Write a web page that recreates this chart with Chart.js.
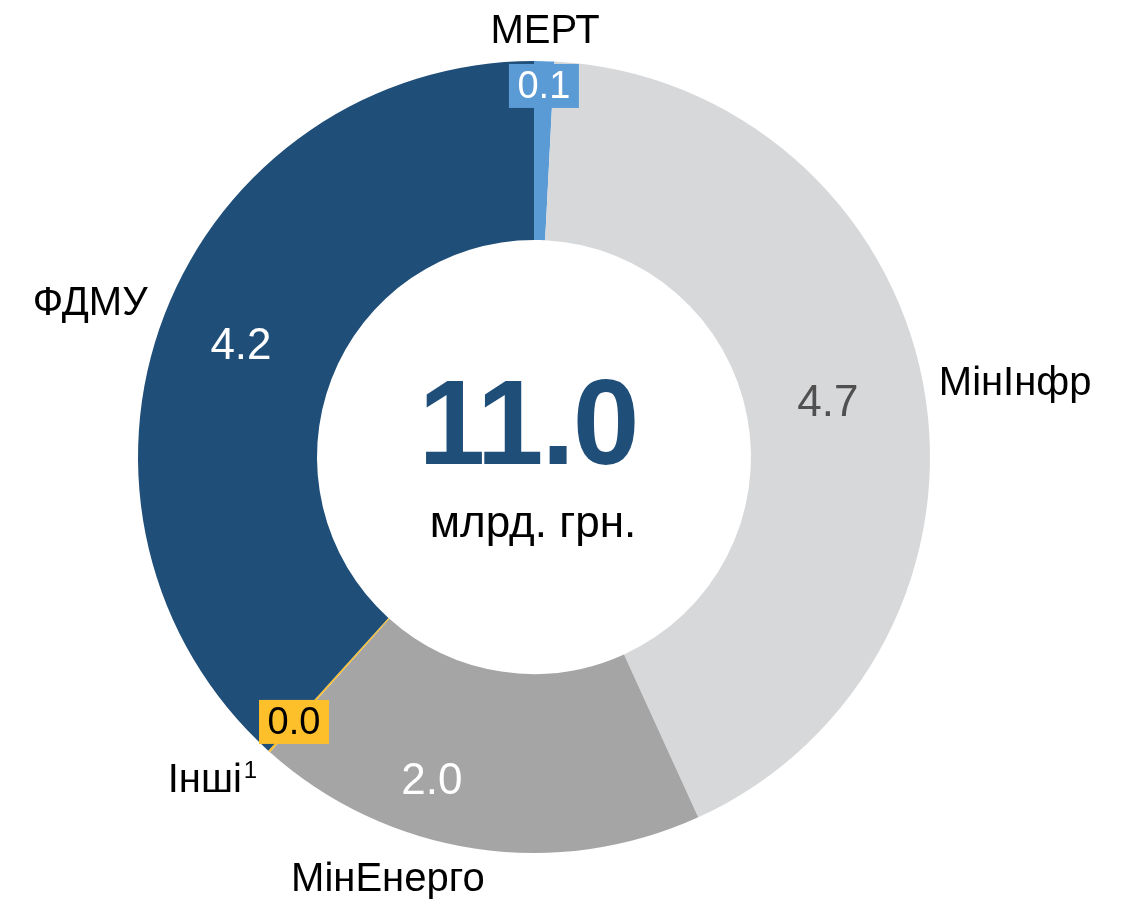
<!DOCTYPE html>
<html>
<head>
<meta charset="utf-8">
<script src="https://cdn.jsdelivr.net/npm/chart.js@4.4.1/dist/chart.umd.min.js"></script>
<style>
  html, body { margin: 0; padding: 0; background: #ffffff; }
  #wrap { width: 1128px; height: 902px; position: relative; }
</style>
</head>
<body>
<div id="wrap"><canvas id="c" width="1128" height="902"></canvas></div>
<script>
// ---- data ----
const categories = ['МЕРТ', 'МінІнфр', 'МінЕнерго', 'Інші', 'ФДМУ'];
const values = [0.09, 4.67, 2.03, 0.01, 4.22];
const valueLabels = ['0.1', '4.7', '2.0', '0.0', '4.2'];
const totalLabel = '11.0';
const unitLabel = 'млрд. грн.';

// ---- styles ----
const colors = ['#5B9BD5', '#D7D8DA', '#A5A5A5', '#FDBF2A', '#1F4E79'];
const FONT = '"Liberation Sans", Arial, Helvetica, sans-serif';

// label placement as fractions of outer radius from chart center
const valueStyle = [
  { dx: 0.025, dy: -0.937, color: '#ffffff', box: '#5B9BD5' },
  { dx: 0.742, dy: -0.139, color: '#505050' },
  { dx: -0.258, dy: 0.816, color: '#ffffff' },
  { dx: -0.606, dy: 0.669, color: '#000000', box: '#FDBF2A' },
  { dx: -0.740, dy: -0.283, color: '#ffffff' }
];
const catStyle = [
  { dx: 0.028, dy: -1.078 },
  { dx: 1.215, dy: -0.189 },
  { dx: -0.369, dy: 1.063 },
  { dx: -0.812, dy: 0.813, sup: '1' },
  { dx: -1.121, dy: -0.391 }
];

const labelPlugin = {
  id: 'labels',
  afterDraw(chart) {
    const ctx = chart.ctx;
    const arc = chart.getDatasetMeta(0).data[0];
    const cx = arc.x, cy = arc.y, R = arc.outerRadius;
    ctx.save();
    ctx.textAlign = 'center';
    ctx.textBaseline = 'middle';

    // value labels
    valueLabels.forEach((t, i) => {
      const s = valueStyle[i];
      const x = cx + s.dx * R, y = cy + s.dy * R;
      if (s.box) {
        ctx.fillStyle = s.box;
        ctx.fillRect(x - 35, y - 22, 70, 44);
        ctx.font = '38px ' + FONT;
      } else {
        ctx.font = '44px ' + FONT;
      }
      ctx.fillStyle = s.color;
      ctx.fillText(t, x, y + 2);
    });

    // category labels
    categories.forEach((t, i) => {
      const s = catStyle[i];
      const x = cx + s.dx * R, y = cy + s.dy * R;
      ctx.fillStyle = '#000000';
      ctx.font = '40px ' + FONT;
      if (s.sup) {
        const w = ctx.measureText(t).width;
        ctx.font = '24px ' + FONT;
        const ws = ctx.measureText(s.sup).width;
        const left = x - (w + ws + 2) / 2;
        ctx.textAlign = 'left';
        ctx.font = '40px ' + FONT;
        ctx.fillText(t, left, y + 2);
        ctx.font = '24px ' + FONT;
        ctx.fillText(s.sup, left + w + 2, y - 8);
        ctx.textAlign = 'center';
      } else {
        ctx.fillText(t, x, y + 2);
      }
    });

    // center total
    ctx.fillStyle = '#1F4E79';
    ctx.font = 'bold 120px ' + FONT;
    const sp = -2;
    if ('letterSpacing' in ctx) ctx.letterSpacing = sp + 'px';
    ctx.fillText(totalLabel, cx - 7 - sp / 2, cy - 26);
    if ('letterSpacing' in ctx) ctx.letterSpacing = '0px';
    ctx.fillStyle = '#000000';
    ctx.font = '44px ' + FONT;
    ctx.textBaseline = 'alphabetic';
    ctx.fillText(unitLabel, cx - 1, cy + 80);
    ctx.restore();
  }
};

new Chart(document.getElementById('c'), {
  type: 'doughnut',
  data: {
    labels: categories,
    datasets: [{
      data: values,
      backgroundColor: colors,
      borderWidth: 0
    }]
  },
  options: {
    responsive: false,
    animation: false,
    cutout: '54.8%',
    rotation: 0,
    layout: { padding: { left: 138, right: 198, top: 61, bottom: 49 } },
    plugins: { legend: { display: false }, tooltip: { enabled: false } }
  },
  plugins: [labelPlugin]
});
</script>
</body>
</html>
